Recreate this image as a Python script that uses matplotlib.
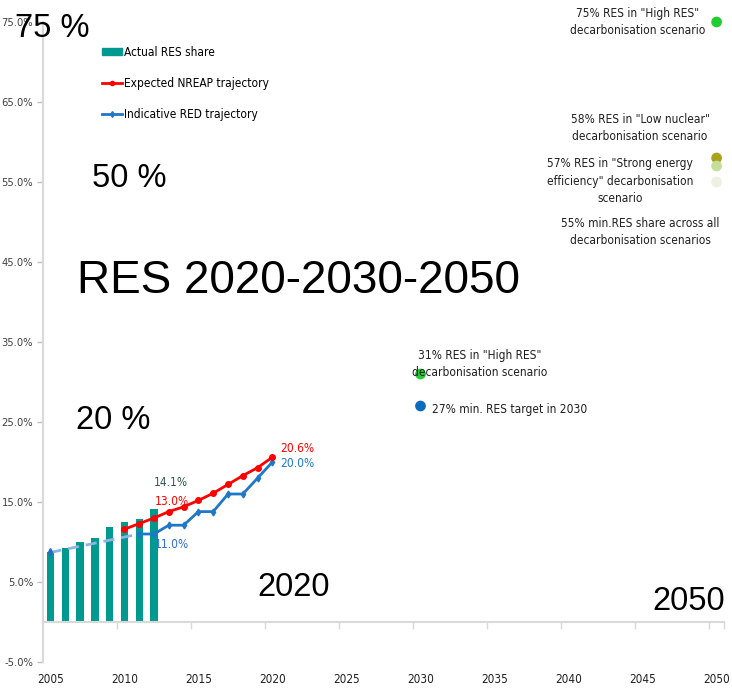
import matplotlib
matplotlib.use('Agg')
import matplotlib.pyplot as plt
from matplotlib import font_manager
from matplotlib.lines import Line2D
from matplotlib.patches import Patch

# look for a narrow font for the small labels (Excel used Calibri)
fonts = font_manager.fontManager.ttflist
names = {f.name for f in fonts}
if 'Liberation Sans Narrow' in names:
    SMALL = {'family': 'Liberation Sans Narrow'}
    scale = 1.05
elif any(f.name == 'DejaVu Sans' and f.stretch == 'condensed' for f in fonts):
    SMALL = {'family': 'DejaVu Sans', 'fontstretch': 'condensed'}
    scale = 0.95
else:
    SMALL = {'family': 'Liberation Sans'}
    scale = 0.95
BIG = 'Liberation Sans'

# data
bar_years = [2005, 2006, 2007, 2008, 2009, 2010, 2011, 2012]
actual_res = [8.7, 9.2, 10.0, 10.5, 11.9, 12.5, 12.9, 14.1]

nreap_years = list(range(2010, 2021))
nreap = [11.6, 12.3, 13.0, 13.8, 14.4, 15.2, 16.1, 17.2, 18.3, 19.3, 20.6]

red_years = list(range(2011, 2021))
red_traj = [11.0, 11.0, 12.1, 12.1, 13.8, 13.8, 16.0, 16.0, 18.0, 20.0]

base_years = [2005, 2011]
base_traj = [8.7, 11.0]

scen_2030 = [31, 27]
scen_2030_colors = ['#22CC33', '#0A6CC0']
scen_2050 = [75, 58, 57, 55]
scen_2050_colors = ['#22CC33', '#A9A31C', '#C5DE9A', '#ECF2DF']

year_ticks = list(range(2005, 2051, 5))
y_ticks = list(range(-5, 76, 10))

fig = plt.figure(figsize=(7.32, 6.91), dpi=100)
ax = fig.add_axes([43 / 732, 29 / 691, 681 / 732, 640 / 691])

ax.bar(bar_years, actual_res, width=0.5, color='#00998F', zorder=2)
ax.plot(base_years, base_traj, color='#8DB4E2', lw=2, ls=(0, (4, 2.5)),
        marker='d', ms=4, mfc='#1F6FC5', mec='#1F6FC5', markevery=[0], zorder=3)
ax.plot(red_years, red_traj, color='#1F77C8', lw=2, marker='d', ms=3.5, zorder=3)
ax.plot(nreap_years, nreap, color='#FF0000', lw=2, marker='o', ms=4, zorder=4)

ax.scatter([2030] * len(scen_2030), scen_2030, s=45, c=scen_2030_colors, zorder=5, clip_on=False)
ax.scatter([2050] * len(scen_2050), scen_2050, s=45, c=scen_2050_colors, zorder=5, clip_on=False)

ax.set_xlim(2004.5, 2050.5)
ax.set_ylim(-5, 75)

# axes styling
for s in ['top', 'right']:
    ax.spines[s].set_visible(False)
ax.spines['left'].set_color('#D9D9D9')
ax.spines['left'].set_linewidth(1.5)
ax.spines['bottom'].set_position(('data', 0))
ax.spines['bottom'].set_color('#D9D9D9')
ax.spines['bottom'].set_linewidth(1.5)

ax.set_yticks(y_ticks)
ax.set_yticklabels([f'{v:.1f}%' for v in y_ticks], fontsize=8, color='#404040', **SMALL)
ax.tick_params(axis='y', length=4, width=1, color='#BFBFBF', pad=3)

ax.set_xticks([y - 0.5 for y in year_ticks[1:]] + [2050.5])
ax.set_xticklabels([])
ax.tick_params(axis='x', length=5, width=1, color='#D9D9D9', direction='out')

sec = ax.secondary_xaxis('bottom')
sec.set_xticks(year_ticks)
sec.set_xticklabels([str(y) for y in year_ticks], fontsize=8.5, color='#202020', **SMALL)
sec.tick_params(length=0, pad=8)
sec.spines['bottom'].set_visible(False)

# legend
handles = [
    Patch(color='#00998F'),
    Line2D([], [], color='#FF0000', lw=2, marker='o', ms=3),
    Line2D([], [], color='#1F77C8', lw=2, marker='d', ms=3),
]
labels = ['Actual RES share', 'Expected NREAP trajectory', 'Indicative RED trajectory']
leg_prop = dict(SMALL)
if 'fontstretch' in leg_prop:
    leg_prop['stretch'] = leg_prop.pop('fontstretch')
leg_prop['size'] = 9 * scale
ax.legend(handles, labels, loc='upper left', bbox_to_anchor=(0.086, 0.963), frameon=False,
          prop=leg_prop, handlelength=1.7, handleheight=0.6,
          handletextpad=0.2, labelspacing=1.52, borderpad=0, borderaxespad=0)

# data labels
lab = dict(fontsize=9 * scale, va='center', ha='left', **SMALL)
ax.text(2012.0, 17.5, '14.1%', color='#2F5A4A', **lab)
ax.text(2012.05, 15.1, '13.0%', color='#FF0000', **lab)
ax.text(2012.05, 9.7, '11.0%', color='#2E6FD6', **lab)
ax.text(2020.5, 21.7, '20.6%', color='#FF0000', **lab)
ax.text(2020.5, 19.8, '20.0%', color='#1F77C8', **lab)

# scenario notes
note = dict(fontsize=9 * scale, color='#202020', ha='center', va='center',
            linespacing=1.4, transform=fig.transFigure, **SMALL)

def px(x, y):
    return x / 732, 1 - y / 691

fig.text(*px(638, 22), '75% RES in "High RES"\ndecarbonisation scenario', **note)
fig.text(*px(640, 128), '58% RES in "Low nuclear"\ndecarbonisation scenario', **note)
fig.text(*px(620, 181), '57% RES in "Strong energy\nefficiency" decarbonisation\nscenario', **note)
fig.text(*px(640, 232), '55% min.RES share across all\ndecarbonisation scenarios', **note)
fig.text(*px(480, 364), '31% RES in "High RES"\ndecarbonisation scenario', **note)
note['ha'] = 'left'
fig.text(*px(432, 410), '27% min. RES target in 2030', **note)

# big overlay text
big = dict(family=BIG, color='black', va='baseline', ha='left')
fig.text(*px(15, 37), '75 %', fontsize=23.5, **big)
fig.text(*px(92, 187), '50 %', fontsize=23.5, **big)
fig.text(*px(77, 293), 'RES 2020-2030-2050', fontsize=33, **big)
fig.text(*px(76, 429), '20 %', fontsize=23.5, **big)
fig.text(*px(257, 596), '2020', fontsize=23.5, **big)
fig.text(*px(652, 610), '2050', fontsize=23.5, **big)

fig.savefig('out.png', dpi=100)
